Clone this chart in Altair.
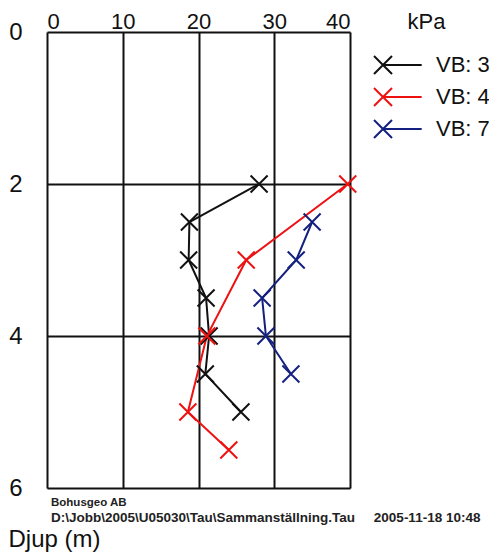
import altair as alt
import pandas as pd

series = ["VB: 3", "VB: 4", "VB: 7"]
depth_vb3 = [2.0, 2.5, 3.0, 3.5, 4.0, 4.5, 5.0]
kpa_vb3 = [28.0, 18.8, 18.7, 21.0, 21.4, 20.9, 25.6]
depth_vb4 = [2.0, 3.0, 4.0, 5.0, 5.5]
kpa_vb4 = [39.7, 26.3, 21.1, 18.6, 24.0]
depth_vb7 = [2.5, 3.0, 3.5, 4.0, 4.5]
kpa_vb7 = [35.0, 32.9, 28.4, 28.9, 32.2]
colors = ["#111111", "#ee1111", "#14207f"]
x_ticks = [0, 10, 20, 30, 40]
y_ticks = [0, 2, 4, 6]

rows = []
for name, d, k in [(series[0], depth_vb3, kpa_vb3), (series[1], depth_vb4, kpa_vb4), (series[2], depth_vb7, kpa_vb7)]:
    for dd, kk in zip(d, k):
        rows.append({"serie": name, "djup": dd, "kpa": kk})
df = pd.DataFrame(rows)

FONT = "Liberation Sans"
XPATH = "M-1,-1L1,1M-1,1L1,-1"
LEGPATH = "M-1,-1L1,1M-1,1L1,-1M0,0L4.3,0"
NB = "\u00a0"

legend = alt.Legend(
    title=None, orient="none", legendX=325, legendY=22,
    symbolType=LEGPATH, symbolSize=324, symbolStrokeWidth=2,
    symbolFillColor="transparent",
    labelFont=FONT, labelFontSize=22, labelColor="#111", labelOffset=42,
    rowPadding=6, padding=0,
)

color = alt.Color("serie:N", scale=alt.Scale(domain=series, range=colors), legend=legend)

x = alt.X("kpa:Q", scale=alt.Scale(domain=[0, 40], nice=False),
          axis=alt.Axis(orient="top", values=x_ticks, title="kPa", ticks=False, domain=False,
                        grid=True, gridColor="#111", gridWidth=2, gridOpacity=1,
                        labelFont=FONT, labelFontSize=22, labelColor="#111", labelPadding=4,
                        labelBaseline="alphabetic",
                        titleFont=FONT, titleFontSize=22, titleFontWeight="normal", titleColor="#111",
                        titleX=379, titleY=-4, titleAlign="center", titleBaseline="alphabetic"))
y = alt.Y("djup:Q", scale=alt.Scale(domain=[0, 6], reverse=True, nice=False),
          axis=alt.Axis(values=y_ticks, title="Djup (m)", ticks=False, domain=False,
                        grid=True, gridColor="#111", gridWidth=2, gridOpacity=1,
                        labelFont=FONT, labelFontSize=24, labelColor="#111", labelPadding=25,
                        titleFont=FONT, titleFontSize=24, titleFontWeight="normal", titleColor="#111",
                        titleAngle=0, titleX=-39, titleY=514, titleAlign="left", titleBaseline="alphabetic"))

base = alt.Chart(df)
lines = base.mark_line(strokeWidth=2).encode(x=x, y=y, color=color, order="djup:Q")
points = base.mark_point(shape=XPATH, size=289, filled=False, strokeWidth=2, opacity=1).encode(x=x, y=y, color=color)

chart = alt.layer(lines, points).properties(
    width=303, height=456,
    autosize=alt.AutoSizeParams(type="none"),
    padding={"left": 39, "top": 24, "right": 139, "bottom": 64},
    title=alt.TitleParams(
        text="Bohusgeo AB",
        subtitle="D:\\Jobb\\2005\\U05030\\Tau\\Sammanställning.Tau" + NB * 5 + "2005-11-18 10:48",
        orient="bottom", anchor="start", frame="group", dx=4, offset=-54,
        font=FONT, fontSize=11.5, fontWeight="bold", color="#222",
        subtitleFont=FONT, subtitleFontSize=13.5, subtitleFontWeight="bold", subtitleColor="#222",
        subtitlePadding=2,
    ),
).configure_view(stroke="#111", strokeWidth=2).configure(background="white")

chart.save("out.html", embed_options={"renderer": "svg", "actions": False})
